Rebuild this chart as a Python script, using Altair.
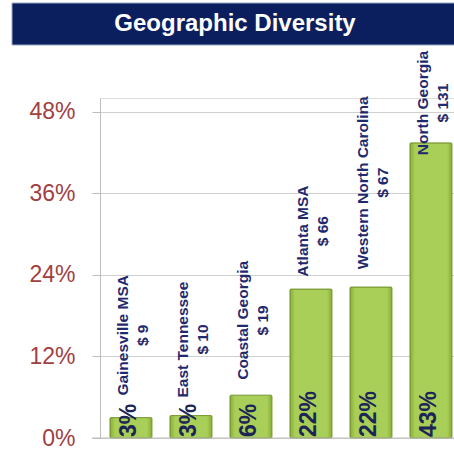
import altair as alt
import pandas as pd

regions = ["Gainesville MSA", "East Tennessee", "Coastal Georgia", "Atlanta MSA",
           "Western North Carolina", "North Georgia"]
dollars = [9, 10, 19, 66, 67, 131]
pct = [3.0, 3.3, 6.3, 21.9, 22.2, 43.4]
pct_labels = ["3%", "3%", "6%", "22%", "22%", "43%"]
y_ticks = [0, 12, 24, 36, 48]
title_text = "Geographic Diversity"

df = pd.DataFrame({
    "region": regions,
    "dollars": dollars,
    "pct": pct,
    "pct_label": pct_labels,
})
df["label"] = [[r, f"$ {d}"] for r, d in zip(regions, dollars)]

W, H = 354, 340

x_enc = alt.X("region:N", sort=regions, axis=None,
              scale=alt.Scale(paddingInner=0.3, paddingOuter=0.1, align=0.83))
y_scale = alt.Scale(domain=[0, 50], nice=False)

base = alt.Chart(df)

bars = base.mark_bar(
    color=alt.Gradient(
        gradient="linear", x1=0, x2=1, y1=0, y2=0,
        stops=[alt.GradientStop(offset=0, color="#86ad36"),
               alt.GradientStop(offset=0.12, color="#a9cf58"),
               alt.GradientStop(offset=0.88, color="#a9cf58"),
               alt.GradientStop(offset=1, color="#86ad36")]),
    stroke="#7a9a34", strokeWidth=1, cornerRadius=1,
).encode(
    x=x_enc,
    y=alt.Y("pct:Q", scale=y_scale,
            axis=alt.Axis(values=y_ticks, labelExpr="datum.value + '%'",
                          labelFont="Liberation Sans", labelFontSize=23,
                          labelColor="#a0403f", labelPadding=17,
                          tickSize=8, tickColor="#bdbdbd", domainColor="#bdbdbd",
                          gridColor="#cfcfcf", title=None, labelBaseline="middle")),
)

inner = base.mark_text(
    angle=270, align="left", baseline="middle", font="Liberation Sans",
    fontWeight="bold", fontSize=23, color="#1c2555", dx=1, dy=-2,
).encode(
    x=x_enc,
    y=alt.datum(0, scale=y_scale),
    text="pct_label:N",
)

outer = base.transform_calculate(
    anchor="min(max(datum.pct + 1.7, 5.8), 41.2) + length(datum.region) * 0.62"
).mark_text(
    angle=270, align="center", baseline="middle", font="Liberation Sans",
    fontWeight="bold", fontSize=15.5, lineHeight=20, color="#1f2a6e", dy=-8,
).encode(
    x=x_enc,
    y=alt.Y("anchor:Q", scale=y_scale),
    text="label",
)

baseline = alt.Chart(pd.DataFrame({"v": [0]})).mark_rule(color="#bdbdbd").encode(
    x=alt.value(-8), x2=alt.value(W), y=alt.Y("v:Q", scale=y_scale)
)

banner = alt.Chart(pd.DataFrame({"t": [title_text]})).mark_rect(
    color="#0b1f5e", stroke="#9aa6c4", strokeWidth=1
).encode(
    x=alt.value(-88), x2=alt.value(W + 2), y=alt.value(-95), y2=alt.value(-53)
)
banner_text = alt.Chart(pd.DataFrame({"t": [title_text]})).mark_text(
    color="white", font="Liberation Sans", fontWeight="bold", fontSize=24,
    align="center", baseline="middle"
).encode(
    x=alt.value(135), y=alt.value(-74), text="t:N"
)

chart = alt.layer(bars, baseline, inner, outer, banner, banner_text).properties(
    width=W, height=H,
    autosize=alt.AutoSizeParams(type="none"),
    padding={"left": 100, "top": 98, "right": 0, "bottom": 21},
).configure_view(stroke=None).configure(background="white")

chart.save("out.html", embed_options={"renderer": "svg", "actions": False})
